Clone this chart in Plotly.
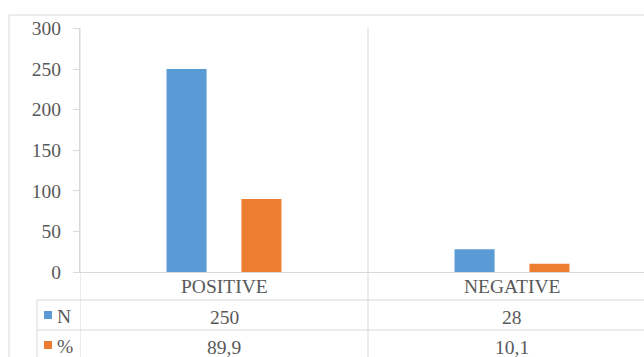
import plotly.graph_objects as go

# Data
categories = ["POSITIVE", "NEGATIVE"]
series_names = ["N", "%"]
n_values = [250, 28]
pct_values = [89.9, 10.1]
y_ticks = [0, 50, 100, 150, 200, 250, 300]

W, H = 644, 357
BLUE = "#5B9BD5"
ORANGE = "#ED7D31"
TEXT = "#595959"
LINE = "#D9D9D9"
FONT = "'Liberation Serif', 'Times New Roman', 'DejaVu Serif', serif"


def px(x):
    return x / W


def py(y):
    return 1 - y / H


fig = go.Figure()
series = [(series_names[0], n_values, BLUE), (series_names[1], pct_values, ORANGE)]
for name, vals, col in series:
    fig.add_trace(go.Bar(x=list(range(len(categories))), y=vals, name=name,
                         marker=dict(color=col, line=dict(width=0))))

shapes = []


def hline(y, x0, x1):
    shapes.append(dict(type="line", xref="paper", yref="paper",
                       x0=px(x0), x1=px(x1), y0=py(y), y1=py(y),
                       line=dict(color=LINE, width=1)))


def vline(x, y0, y1, xref="paper"):
    xv = px(x) if xref == "paper" else x
    shapes.append(dict(type="line", xref=xref, yref="paper",
                       x0=xv, x1=xv, y0=py(y0), y1=py(y1),
                       line=dict(color=LINE, width=1)))


# chart frame
hline(15, 9, W)
vline(9, 15, H)
# data table grid
hline(300, 37, W)
hline(330, 37, W)
vline(37, 300, H)
vline(-0.5, 28, H, xref="x")
vline(0.5, 28, H, xref="x")

label_font = dict(family=FONT, size=19.5, color=TEXT)
annotations = []
# category labels and table values
for i, cat in enumerate(categories):
    annotations.append(dict(x=i, y=py(286), xref="x", yref="paper", text=cat,
                            yanchor="middle", showarrow=False, font=label_font))
    annotations.append(dict(x=i, y=py(317), xref="x", yref="paper",
                            text=f"{n_values[i]}".replace(".", ","),
                            yanchor="middle", showarrow=False, font=label_font))
    annotations.append(dict(x=i, y=py(347), xref="x", yref="paper",
                            text=f"{pct_values[i]:.1f}".replace(".", ","),
                            yanchor="middle", showarrow=False, font=label_font))

# legend keys inside the table
for row_y, (name, _, col) in zip([315, 345], series):
    shapes.append(dict(type="rect", xref="paper", yref="paper",
                       x0=px(44), x1=px(52), y0=py(row_y + 4), y1=py(row_y - 4),
                       fillcolor=col, line=dict(width=0)))
    annotations.append(dict(x=px(55), y=py(row_y + 1), xref="paper", yref="paper",
                            text=name, xanchor="left", yanchor="middle",
                            showarrow=False, font=label_font))

fig.update_layout(
    width=W, height=H,
    margin=dict(l=0, r=0, t=0, b=0, pad=0, autoexpand=False),
    paper_bgcolor="white", plot_bgcolor="white",
    barmode="group", bargap=0.48, bargroupgap=0.465,
    showlegend=False,
    shapes=shapes, annotations=annotations,
    xaxis=dict(domain=[px(80), 1], range=[-0.5, -0.5 + (W - 80) / 288],
               showticklabels=False, showgrid=False, zeroline=False,
               showline=True, linecolor=LINE, linewidth=1, ticks="",
               automargin=False),
    yaxis=dict(domain=[py(272), py(28.4)], range=[0, 300], tickvals=y_ticks,
               showgrid=False, zeroline=False, showline=True, linecolor=LINE,
               linewidth=1, ticks="outside", ticklen=6, tickcolor=LINE,
               ticklabelstandoff=8, tickfont=label_font, automargin=False),
)

fig.write_html("out.html")
